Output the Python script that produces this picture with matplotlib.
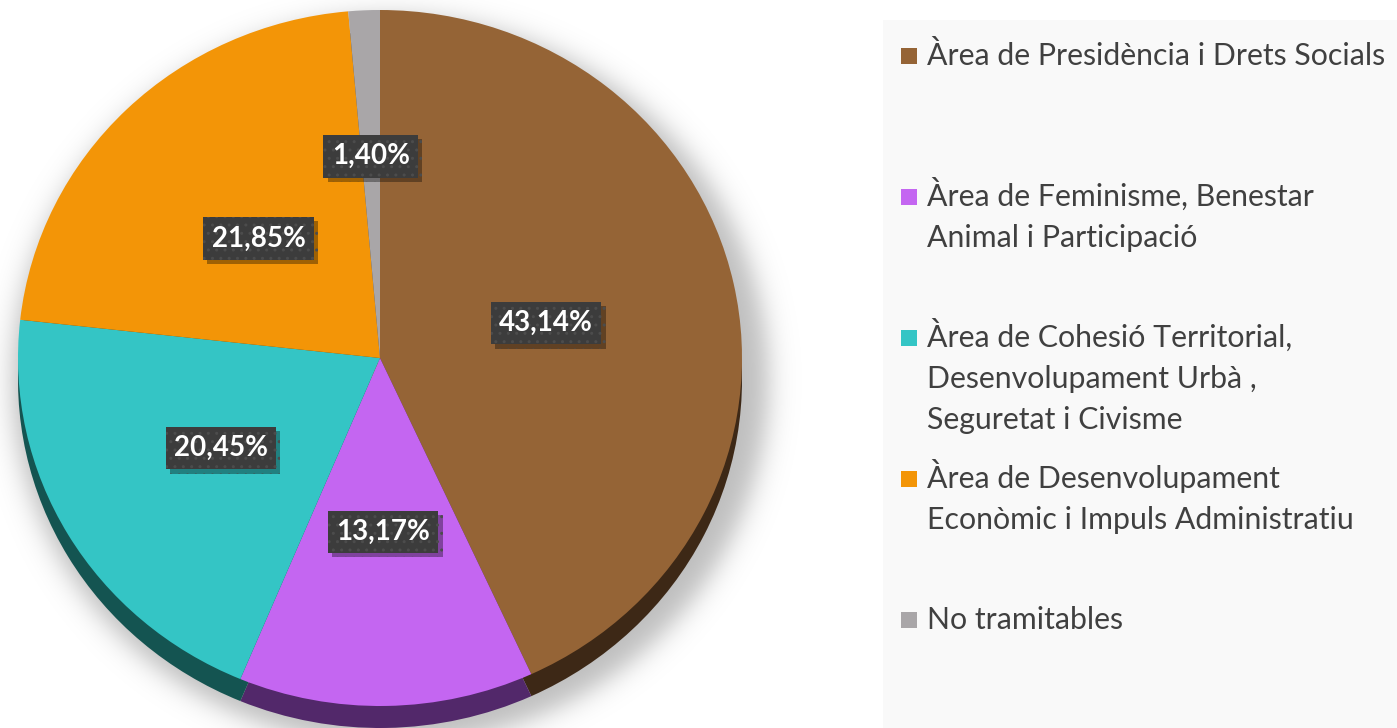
import numpy as np
import matplotlib
matplotlib.use("Agg")
import matplotlib.pyplot as plt
from matplotlib.patches import Rectangle
import matplotlib.patheffects as pe

# ---- data ----
categories = [
    "Àrea de Presidència i Drets Socials",
    "Àrea de Feminisme, Benestar\nAnimal i Participació",
    "Àrea de Cohesió Territorial,\nDesenvolupament Urbà ,\nSeguretat i Civisme",
    "Àrea de Desenvolupament\nEconòmic i Impuls Administratiu",
    "No tramitables",
]
values = [43.14, 13.17, 20.45, 21.85, 1.40]
value_labels = ["43,14%", "13,17%", "20,45%", "21,85%", "1,40%"]

# ---- style ----
face_colors = ["#956436", "#c466f1", "#34c5c5", "#f39507", "#a9a6a8"]
side_colors = ["#3d2816", "#52286a", "#145451", "#6b4103", "#4a494a"]
label_dist = [0.47, 0.50, 0.51, 0.48, 0.58]

W, H = 1397, 728
fig = plt.figure(figsize=(W / 100, H / 100), dpi=100)
fig.patch.set_facecolor("white")

# background axes in pixel coordinates
bg = fig.add_axes([0, 0, 1, 1])
bg.set_xlim(0, W)
bg.set_ylim(H, 0)
bg.axis("off")

cx, cy, rx, ry, depth = 380, 358, 362, 348, 22

# soft shadow
yy, xx = np.mgrid[0:H, 0:W]
scx, scy, srx, sry = cx + 10, cy + 22, rx + 16, ry + 16
d = np.sqrt(((xx - scx) / srx) ** 2 + ((yy - scy) / sry) ** 2)
alpha = 0.26 / (1 + np.exp((d - 1) * srx / 8.0))
img = np.zeros((H, W, 4))
img[..., 3] = alpha
bg.imshow(img, extent=(0, W, H, 0), zorder=1, interpolation="bilinear")

# legend panel
bg.add_patch(Rectangle((883, 20), W - 883, H - 20, facecolor="#f9f9f9",
                       edgecolor="none", zorder=2))


def pie_axes(offset):
    return fig.add_axes([(cx - rx) / W, 1 - (cy + ry + offset) / H,
                         2 * rx / W, 2 * ry / H])


# side (3D depth)
ax_side = pie_axes(depth)
ax_side.pie(values, colors=side_colors, startangle=90, counterclock=False,
            radius=1, wedgeprops=dict(linewidth=0))
ax_side.set_aspect("auto")
ax_side.set_xlim(-1, 1)
ax_side.set_ylim(-1, 1)
ax_side.axis("off")

# top face
ax = pie_axes(0)
wedges, _ = ax.pie(values, colors=face_colors, startangle=90, counterclock=False,
                   radius=1, wedgeprops=dict(linewidth=0))
ax.set_aspect("auto")
ax.set_xlim(-1, 1)
ax.set_ylim(-1, 1)
ax.axis("off")

for w, lab, r in zip(wedges, value_labels, label_dist):
    theta = np.deg2rad((w.theta1 + w.theta2) / 2)
    t = ax.text(r * np.cos(theta), r * np.sin(theta), lab, ha="center", va="center",
                color="white", fontsize=20, fontweight="bold", family="Lato",
                bbox=dict(boxstyle="square,pad=0.3", facecolor="#3c3c3c",
                          edgecolor="#4c4c4c", linewidth=0.0, hatch=".."))
    t.get_bbox_patch().set_path_effects([
        pe.SimplePatchShadow(offset=(3, -3), shadow_rgbFace="black", alpha=0.35),
        pe.Normal()])

# legend (manual, Excel-like layout)
entry_y0, entry_step, line_step = 65, 141, 41
for i, (cat, col) in enumerate(zip(categories, face_colors)):
    base = entry_y0 + i * entry_step
    bg.add_patch(Rectangle((901, base - 17), 16, 16, facecolor=col,
                           edgecolor="none", zorder=3))
    for j, line in enumerate(cat.split("\n")):
        bg.text(927, base + j * line_step, line, ha="left", va="baseline",
                fontsize=21.8, color="#404040", family="Lato", zorder=3)

fig.savefig("out.png", dpi=100, facecolor="white")
